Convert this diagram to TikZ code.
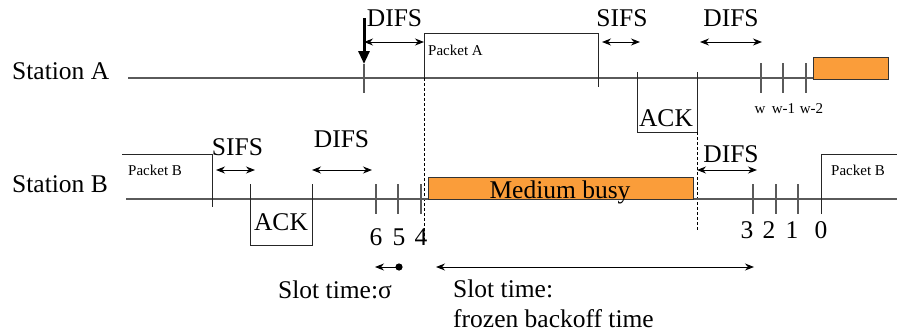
\documentclass[tikz,border=0pt]{standalone}
\usepackage{fontspec}
\setmainfont{Liberation Serif}
\usetikzlibrary{arrows.meta}
\definecolor{busy}{RGB}{250,157,58}
\definecolor{tl}{RGB}{90,90,90}
\begin{document}
\begin{tikzpicture}[x=1pt,y=-1pt,
  big/.style={font=\fontsize{25.5}{28}\selectfont, inner sep=0pt},
  small/.style={font=\fontsize{15}{17}\selectfont, inner sep=0pt},
  timeline/.style={draw=tl, line width=1.3pt},
  tick/.style={draw=tl, line width=1.1pt},
  boxline/.style={draw=black!85, line width=1pt},
  dashline/.style={draw=black, line width=0.9pt, dash pattern=on 3pt off 2pt},
  span/.style={draw=black, line width=1pt, {Stealth[length=9pt,width=7pt]}-{Stealth[length=9pt,width=7pt]}},
  busybox/.style={fill=busy, draw=black!80, line width=1pt}]
\useasboundingbox (0,0) rectangle (897,332);

% ---------- Station A ----------
\node[big, anchor=base west] (stA) at (12,79) {Station A};
\coordinate (A0) at (128,78);
\coordinate (A1) at (883,78);
\draw[timeline] (A0) -- (A1);

% thick arrival arrow
\coordinate (arrTop) at (364,18);
\coordinate (arrTip) at (364,64);
\coordinate (arrBot) at (364,93);
\draw[tick] (arrTip) -- (arrBot);
\draw[line width=3pt, -{Triangle[length=13pt,width=11pt]}] (arrTop) -- (arrTip);

% DIFS A1
\node[big, anchor=base] (difsA1) at (394.5,27) {DIFS};
\coordinate (dA1l) at (364,42);
\coordinate (dA1r) at (424,42);
\draw[span] (dA1l) -- (dA1r);

% Packet A
\coordinate (pA1) at (424,78);
\coordinate (pA2) at (424,33);
\coordinate (pA3) at (598,33);
\coordinate (pA4) at (598,87);
\draw[boxline] (pA1) -- (pA2) -- (pA3) -- (pA4);
\node[small, anchor=base west] (pktA) at (428,55) {Packet A};

% SIFS A
\node[big, anchor=base] (sifsA) at (622,27) {SIFS};
\coordinate (sAl) at (602,42);
\coordinate (sAr) at (640,42);
\draw[span] (sAl) -- (sAr);

% ACK A
\coordinate (ackA1) at (637,72);
\coordinate (ackA2) at (637,132);
\coordinate (ackA3) at (697,132);
\coordinate (ackA4) at (697,72);
\draw[boxline] (ackA1) -- (ackA2) -- (ackA3) -- (ackA4);
\node[big, anchor=base] (ackA) at (666,126) {ACK};

% DIFS A2
\node[big, anchor=base] (difsA2) at (731,27) {DIFS};
\coordinate (dA2l) at (700,42);
\coordinate (dA2r) at (762,42);
\draw[span] (dA2l) -- (dA2r);

% w ticks
\foreach \x/\n in {761/w0,783/w1,806/w2}{
  \coordinate (\n t) at (\x,63);
  \coordinate (\n b) at (\x,93);
  \draw[tick] (\n t) -- (\n b);
}
\node[small, anchor=base] (lw0) at (760,113) {w};
\node[small, anchor=base] (lw1) at (783.5,113) {w-1};
\node[small, anchor=base] (lw2) at (811.5,113) {w-2};

% orange A
\coordinate (oA1) at (813,57);
\coordinate (oA2) at (888,79);
\draw[busybox] (oA1) rectangle (oA2);

% dashed lines
\coordinate (dash1b) at (424,242);
\draw[dashline] (pA1) -- (dash1b);
\coordinate (dash2b) at (697,230);
\draw[dashline] (ackA3) -- (dash2b);

% ---------- Station B ----------
\node[big, anchor=base west] (stB) at (12,192) {Station B};
\coordinate (B0) at (126,199);
\coordinate (B1) at (897,199);
\draw[timeline] (B0) -- (B1);

% Packet B left
\coordinate (pB1) at (122,154);
\coordinate (pB2) at (212,154);
\coordinate (pB3) at (212,207);
\draw[boxline] (pB1) -- (pB2) -- (pB3);
\node[small, anchor=base west] (pktB1) at (128,175) {Packet B};

% SIFS B
\node[big, anchor=base] (sifsB) at (237.5,155) {SIFS};
\coordinate (sBl) at (216,170);
\coordinate (sBr) at (255,170);
\draw[span] (sBl) -- (sBr);

% ACK B
\coordinate (ackB1) at (250,184);
\coordinate (ackB2) at (250,245);
\coordinate (ackB3) at (312,245);
\coordinate (ackB4) at (312,184);
\draw[boxline] (ackB1) -- (ackB2) -- (ackB3) -- (ackB4);
\node[big, anchor=base] (ackB) at (281,230) {ACK};

% DIFS B1
\node[big, anchor=base] (difsB1) at (341.5,147) {DIFS};
\coordinate (dB1l) at (312,170);
\coordinate (dB1r) at (372,170);
\draw[span] (dB1l) -- (dB1r);

% ticks 6 5 4
\foreach \x/\n in {376/t6,398/t5,421/t4}{
  \coordinate (\n t) at (\x,184);
  \coordinate (\n b) at (\x,214);
  \draw[tick] (\n t) -- (\n b);
}
\node[big, anchor=base] (l6) at (376,245) {6};
\node[big, anchor=base] (l5) at (399,245) {5};
\node[big, anchor=base] (l4) at (421,245) {4};

% Medium busy
\coordinate (mb1) at (428,177);
\coordinate (mb2) at (693,199);
\draw[busybox] (mb1) rectangle (mb2);
\node[big, anchor=base] (mbusy) at (560,198) {Medium busy};

% DIFS B2
\node[big, anchor=base] (difsB2) at (731,162) {DIFS};
\coordinate (dB2l) at (697,170);
\coordinate (dB2r) at (757,170);
\draw[span] (dB2l) -- (dB2r);

% ticks 3 2 1
\foreach \x/\n in {753/t3,776/t2,798/t1}{
  \coordinate (\n t) at (\x,184);
  \coordinate (\n b) at (\x,214);
  \draw[tick] (\n t) -- (\n b);
}
\node[big, anchor=base] (l3) at (747,238) {3};
\node[big, anchor=base] (l2) at (769,238) {2};
\node[big, anchor=base] (l1) at (792,238) {1};
\node[big, anchor=base] (l0) at (821,238) {0};

% Packet B right
\coordinate (pC1) at (821,214);
\coordinate (pC2) at (821,154);
\coordinate (pC3) at (897,154);
\draw[boxline] (pC1) -- (pC2) -- (pC3);
\node[small, anchor=base west] (pktB2) at (831,175) {Packet B};

% slot time arrow
\coordinate (slL) at (375,267);
\coordinate (slR) at (399,267);
\draw[draw=black, line width=1pt, {Stealth[length=9pt,width=7pt]}-] (slL) -- (slR);
\fill[black] (slR) circle (3.6pt);
\node[big, anchor=base west] (slot1) at (278,298) {Slot time:σ};

% frozen arrow
\coordinate (frL) at (436,267);
\coordinate (frR) at (754,267);
\draw[span] (frL) -- (frR);
\node[big, anchor=base west] (slot2) at (453,297) {Slot time:};
\node[big, anchor=base west] (frozen) at (453,327) {frozen backoff time};
\end{tikzpicture}
\end{document}
